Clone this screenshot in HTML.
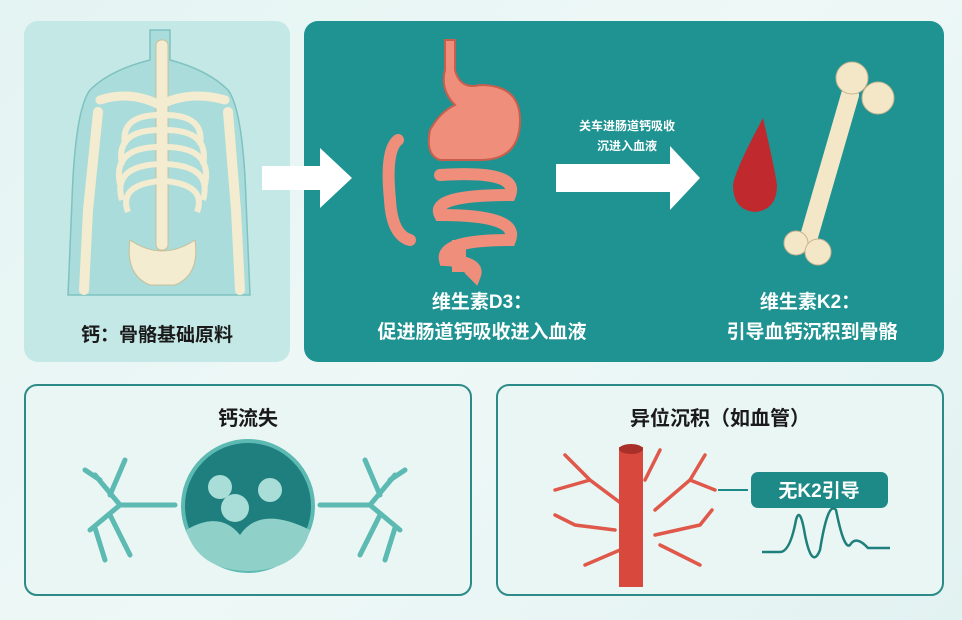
<!DOCTYPE html>
<html><head><meta charset="utf-8"><style>
html,body{margin:0;padding:0;}
body{width:962px;height:620px;overflow:hidden;background:linear-gradient(135deg,#e4f4f2,#eef8f7 50%,#e2f2f1);font-family:"Liberation Sans","Noto Sans CJK SC",sans-serif;}
svg{display:block}
text{font-family:"Liberation Sans","Noto Sans CJK SC",sans-serif;font-weight:bold}
</style></head><body>
<svg width="962" height="620" viewBox="0 0 962 620" xmlns="http://www.w3.org/2000/svg">
<rect x="24" y="21" width="266" height="341" rx="14" fill="#c4e8e6"/>
<path d="M150 30 L150 60 Q110 70 90 90 Q75 110 72 200 L68 295 L250 295 L246 200 Q243 110 228 90 Q208 70 170 60 L170 30 Z" fill="#a9dcda" stroke="#7fc2c0" stroke-width="1.5"/>
<rect x="156" y="40" width="12" height="210" rx="5" fill="#f3ecd0" stroke="#c9bf98"/>
<path d="M100 100 Q130 90 160 105 Q190 90 225 100" stroke="#f3ecd0" stroke-width="9" fill="none" stroke-linecap="round"/>
<g stroke="#f3ecd0" stroke-width="6" fill="none">
<path d="M160 115 Q120 115 125 145"/><path d="M165 115 Q205 115 200 145"/>
<path d="M160 130 Q115 130 122 165"/><path d="M165 130 Q210 130 203 165"/>
<path d="M160 147 Q112 147 120 185"/><path d="M165 147 Q213 147 205 185"/>
<path d="M160 164 Q112 166 122 200"/><path d="M165 164 Q213 166 203 200"/>
<path d="M160 181 Q118 185 128 212"/><path d="M165 181 Q207 185 197 212"/>
</g>
<path d="M98 112 L88 210 L84 290" stroke="#f3ecd0" stroke-width="10" fill="none" stroke-linecap="round"/>
<path d="M228 112 L236 210 L240 290" stroke="#f3ecd0" stroke-width="10" fill="none" stroke-linecap="round"/>
<path d="M130 240 Q125 275 150 285 L175 285 Q200 275 195 240 Q162 262 130 240 Z" fill="#f3ecd0" stroke="#c9bf98"/>
<text x="157" y="341" font-size="19" text-anchor="middle" fill="#1a1a1a">钙：骨骼基础原料</text>
<rect x="304" y="21" width="640" height="341" rx="14" fill="#1f9392"/>
<polygon points="262,166 320,166 320,148 352,178 320,208 320,190 262,190" fill="#ffffff"/>
<path d="M445 40 L455 40 L455 70 Q460 90 480 85 Q520 85 520 120 Q520 160 480 160 L440 160 Q425 155 430 130 Q440 112 455 105 Q440 90 445 70 Z" fill="#ef8e7a" stroke="#c85f4e" stroke-width="2"/>
<g fill="none" stroke="#ef8e7a" stroke-width="12" stroke-linecap="round">
<path d="M440 175 Q520 170 510 195 Q430 195 440 215 Q520 215 510 240 Q440 240 445 260 Q480 262 475 275 L470 270"/>
<path d="M398 140 Q385 150 390 200 Q392 235 410 240"/>
</g>
<rect x="452" y="240" width="14" height="32" fill="#ef8e7a"/>
<polygon points="556,164 670,164 670,146 700,178 670,210 670,192 556,192" fill="#ffffff"/>
<text x="627" y="130" font-size="12" text-anchor="middle" fill="#ffffff" font-weight="normal">关车进肠道钙吸收</text>
<text x="627" y="150" font-size="12" text-anchor="middle" fill="#ffffff" font-weight="normal">沉进入血液</text>
<path d="M763 118 Q735 170 733 185 Q733 210 755 212 Q777 210 777 185 Q775 170 763 118 Z" fill="#c0292d"/>
<path d="M850 95 L808 240" stroke="#f4e7c8" stroke-width="18" stroke-linecap="round"/>
<circle cx="852" cy="78" r="16" fill="#f4e7c8" stroke="#c9b48f"/>
<circle cx="878" cy="98" r="16" fill="#f4e7c8" stroke="#c9b48f"/>
<circle cx="796" cy="243" r="12" fill="#f4e7c8" stroke="#c9b48f"/>
<circle cx="818" cy="252" r="13" fill="#f4e7c8" stroke="#c9b48f"/>
<text x="482" y="308" font-size="19" text-anchor="middle" fill="#ffffff">维生素D3：</text>
<text x="482" y="338" font-size="19" text-anchor="middle" fill="#ffffff">促进肠道钙吸收进入血液</text>
<text x="810" y="308" font-size="19" text-anchor="middle" fill="#ffffff">维生素K2：</text>
<text x="812" y="338" font-size="19" text-anchor="middle" fill="#ffffff">引导血钙沉积到骨骼</text>
<rect x="25" y="385" width="446" height="210" rx="12" fill="#e9f6f4" stroke="#2c8a87" stroke-width="2"/>
<text x="248" y="425" font-size="20" text-anchor="middle" fill="#1a1a1a">钙流失</text>
<g stroke="#5cbab2" stroke-width="5" fill="none" stroke-linecap="round">
<path d="M175 505 L120 505 L95 475 M120 505 L90 530 M110 495 L125 460 M110 515 L130 555 M100 480 L85 470 M95 528 L105 560"/>
<path d="M320 505 L370 505 L395 475 M370 505 L400 530 M380 495 L365 460 M380 515 L360 555 M390 480 L405 470 M395 528 L385 560"/>
</g>
<circle cx="248" cy="506" r="65" fill="#1f7e7e" stroke="#5cbab2" stroke-width="4"/>
<path d="M186 530 Q220 510 240 535 Q260 505 310 530 Q300 570 248 571 Q198 570 186 530 Z" fill="#8fd1c8"/>
<circle cx="220" cy="487" r="12" fill="#a8ddd8"/><circle cx="270" cy="490" r="12" fill="#a8ddd8"/><circle cx="235" cy="508" r="14" fill="#a8ddd8"/>
<rect x="497" y="385" width="446" height="210" rx="12" fill="#e9f6f4" stroke="#2c8a87" stroke-width="2"/>
<text x="720" y="425" font-size="20" text-anchor="middle" fill="#1a1a1a">异位沉积（如血管）</text>
<g stroke="#e0584a" stroke-width="3.5" fill="none" stroke-linecap="round">
<path d="M630 510 L590 480 L565 455 M590 480 L555 490 M615 530 L575 525 L555 515 M620 550 L585 565 M645 480 L660 450 M655 510 L690 480 L705 455 M690 480 L715 490 M655 535 L700 525 L712 510 M660 545 L700 565"/>
</g>
<rect x="619" y="447" width="24" height="140" fill="#d8483c"/>
<ellipse cx="631" cy="449" rx="12" ry="5" fill="#a9302a"/>
<rect x="751" y="472" width="137" height="36" rx="7" fill="#1e8a88"/>
<text x="819" y="497" font-size="19" text-anchor="middle" fill="#ffffff">无K2引导</text>
<line x1="718" y1="490" x2="748" y2="490" stroke="#1e8a88" stroke-width="2"/>
<path d="M762 552 L780 552 Q790 552 796 520 Q800 505 805 535 Q812 570 820 550 Q828 500 836 510 Q844 550 850 545 Q856 535 868 548 L890 548" stroke="#1e7f7c" stroke-width="2.5" fill="none"/>
</svg>
</body></html>
